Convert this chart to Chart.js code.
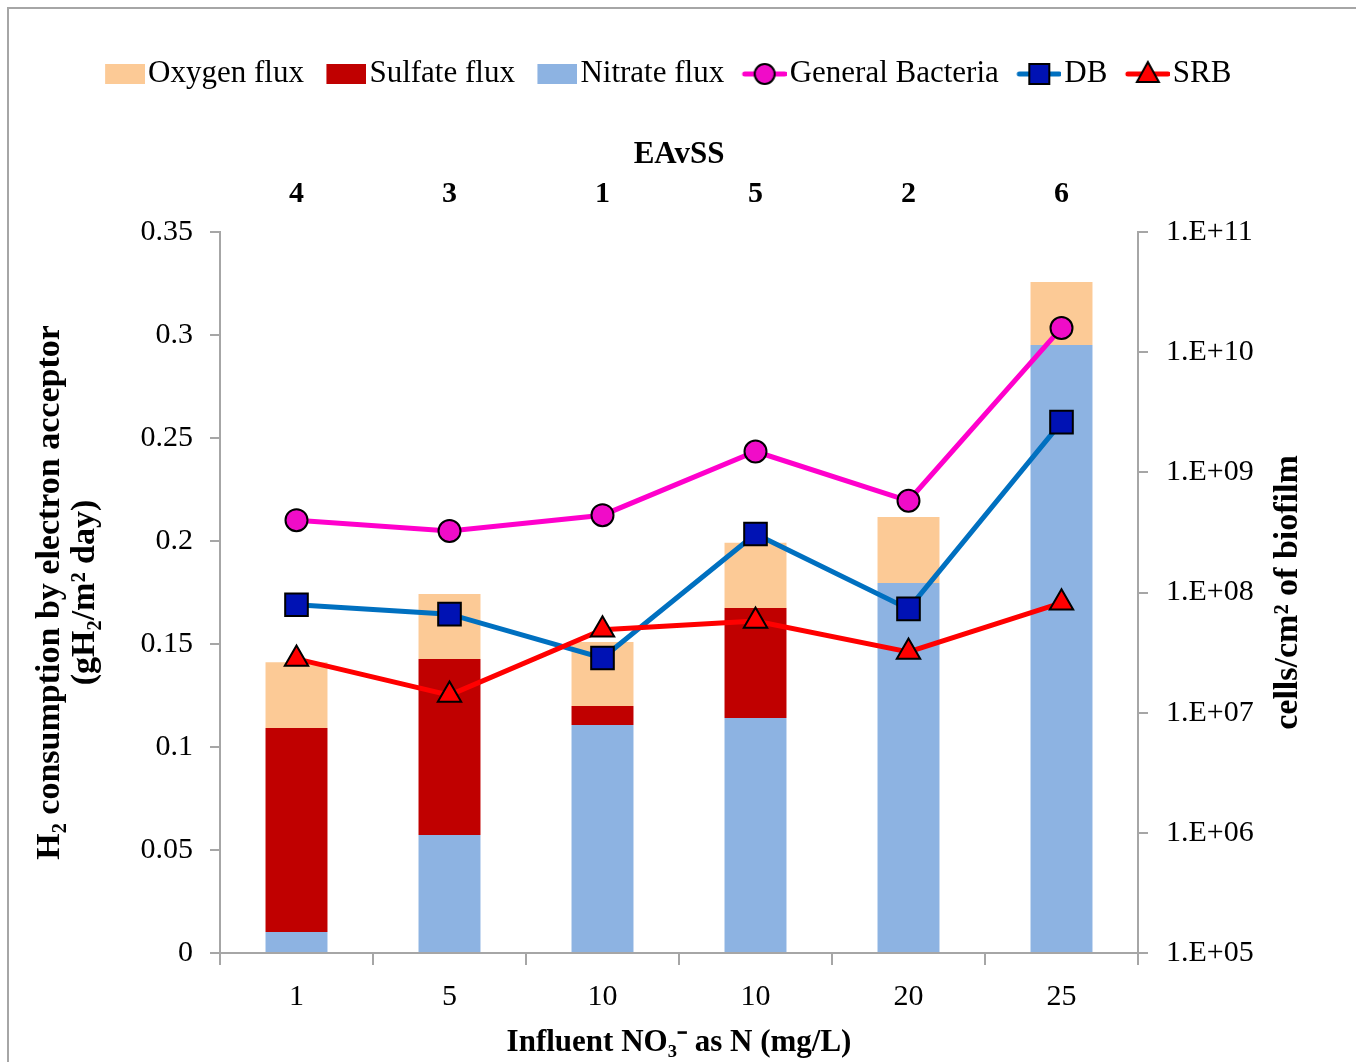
<!DOCTYPE html>
<html>
<head>
<meta charset="utf-8">
<script src="https://cdn.jsdelivr.net/npm/chart.js@4.4.1/dist/chart.umd.min.js"></script>
<style>
html,body{margin:0;padding:0;background:#fff;overflow:hidden;}
#frame{position:absolute;left:7px;top:7px;width:1400px;height:1100px;border:2px solid #a6a6a6;pointer-events:none;}
#wrap{position:absolute;left:0;top:0;width:1356px;height:1062px;}
</style>
</head>
<body>
<div id="frame"></div>
<div id="wrap"><canvas id="c" width="1356" height="1062"></canvas></div>
<script>
// ---- data ----
const categories = ['1', '5', '10', '10', '20', '25'];
const eavssLabels = ['4', '3', '1', '5', '2', '6'];
const nitrateFlux = [0.0102, 0.0573, 0.1107, 0.1141, 0.1796, 0.2951];
const sulfateFlux = [0.0990, 0.0854, 0.0092, 0.0534, 0, 0];
const oxygenFlux  = [0.0320, 0.0316, 0.0311, 0.0316, 0.0320, 0.0306];
const generalBacteria = [4.0e8, 3.25e8, 4.4e8, 1.49e9, 5.8e8, 1.59e10];
const dbCells  = [7.9e7, 6.6e7, 2.85e7, 3.07e8, 7.3e7, 2.62e9];
const srbCells = [2.8e7, 1.4e7, 4.9e7, 5.8e7, 3.2e7, 8.2e7];
const leftTicks = [0, 0.05, 0.1, 0.15, 0.2, 0.25, 0.3, 0.35];
const leftTickLabels = ['0', '0.05', '0.1', '0.15', '0.2', '0.25', '0.3', '0.35'];
const rightTicks = [1e5, 1e6, 1e7, 1e8, 1e9, 1e10, 1e11];
const rightTickLabels = ['1.E+05', '1.E+06', '1.E+07', '1.E+08', '1.E+09', '1.E+10', '1.E+11'];
const seriesNames = ['Nitrate flux', 'Sulfate flux', 'Oxygen flux', 'General Bacteria', 'DB', 'SRB'];
const legendOrder = [2, 1, 0, 3, 4, 5];
const xTitle = 'Influent NO\u2083\u207B as N (mg/L)';
const topTitle = 'EAvSS';
const leftTitle = ['H\u2082 consumption by electron acceptor', '(gH\u2082/m\u00B2 day)'];
const rightTitle = 'cells/cm\u00B2 of biofilm';

// ---- styles ----
const C = {
  oxygen: '#FCCA96', sulfate: '#C00000', nitrate: '#8DB3E2',
  gbLine: '#FF00CC', gbPt: '#F00CC8',
  dbLine: '#0070C0', dbPt: '#0012B4',
  srbLine: '#FF0000', srbPt: '#FF0000',
  axis: '#a6a6a6'
};
const FONT = "'Liberation Serif', 'Times New Roman', serif";
Chart.defaults.font.family = FONT;
Chart.defaults.color = '#000';

function boxIcon(color) {
  const cv = document.createElement('canvas');
  cv.width = 53; cv.height = 22;
  const g = cv.getContext('2d');
  g.fillStyle = color;
  g.fillRect(13, 1, 40, 20);
  return cv;
}
function lineIcon(lineColor, ptColor, shape) {
  const cv = document.createElement('canvas');
  cv.width = 53; cv.height = 28;
  const g = cv.getContext('2d');
  g.strokeStyle = lineColor; g.lineWidth = 5; g.lineCap = 'round';
  g.beginPath(); g.moveTo(11, 14); g.lineTo(51, 14); g.stroke();
  g.fillStyle = ptColor; g.strokeStyle = '#000'; g.lineWidth = 2;
  const cx = 31, cy = 14;
  g.beginPath();
  if (shape === 'circle') { g.arc(cx, cy, 10, 0, Math.PI * 2); }
  else if (shape === 'rect') { g.rect(cx - 10, cy - 10, 20, 20); }
  else { g.moveTo(cx, cy - 12); g.lineTo(cx + 11, cy + 8); g.lineTo(cx - 11, cy + 8); g.closePath(); }
  g.fill(); g.stroke();
  return cv;
}
const legendIcons = [
  boxIcon(C.nitrate), boxIcon(C.sulfate), boxIcon(C.oxygen),
  lineIcon(C.gbLine, C.gbPt, 'circle'),
  lineIcon(C.dbLine, C.dbPt, 'rect'),
  lineIcon(C.srbLine, C.srbPt, 'triangle')
];

const barCommon = { type: 'bar', yAxisID: 'y', xAxisID: 'x', barPercentage: 0.405, categoryPercentage: 1, borderWidth: 0, order: 10 };
const lineCommon = { type: 'line', yAxisID: 'y2', xAxisID: 'x', borderWidth: 5, tension: 0, pointBorderColor: '#000', pointBorderWidth: 2, fill: false };

const rightTitlePlugin = {
  id: 'rightTitle',
  afterDraw(chart) {
    const { ctx, chartArea } = chart;
    const s = chart.scales.y2;
    ctx.save();
    ctx.translate(s.left + 150, (chartArea.top + chartArea.bottom) / 2);
    ctx.rotate(-Math.PI / 2);
    ctx.font = 'bold 34px ' + FONT;
    ctx.fillStyle = '#000';
    ctx.textAlign = 'center';
    ctx.textBaseline = 'middle';
    ctx.fillText(rightTitle, 0, 0);
    ctx.restore();
  }
};

new Chart(document.getElementById('c'), {
  type: 'bar',
  data: {
    labels: categories,
    datasets: [
      Object.assign({}, barCommon, { label: seriesNames[0], data: nitrateFlux, backgroundColor: C.nitrate }),
      Object.assign({}, barCommon, { label: seriesNames[1], data: sulfateFlux, backgroundColor: C.sulfate }),
      Object.assign({}, barCommon, { label: seriesNames[2], data: oxygenFlux, backgroundColor: C.oxygen }),
      Object.assign({}, lineCommon, { label: seriesNames[3], data: generalBacteria, borderColor: C.gbLine, backgroundColor: C.gbPt, pointBackgroundColor: C.gbPt, pointStyle: 'circle', pointRadius: 11, order: 3 }),
      Object.assign({}, lineCommon, { label: seriesNames[4], data: dbCells, borderColor: C.dbLine, backgroundColor: C.dbPt, pointBackgroundColor: C.dbPt, pointStyle: 'rect', pointRadius: 16, order: 2 }),
      Object.assign({}, lineCommon, { label: seriesNames[5], data: srbCells, borderColor: C.srbLine, backgroundColor: C.srbPt, pointBackgroundColor: C.srbPt, pointStyle: 'triangle', pointRadius: 13.5, order: 1 })
    ]
  },
  options: {
    responsive: false,
    animation: false,
    devicePixelRatio: 1,
    layout: { padding: { top: 36.5, right: 20, bottom: 0, left: 0 } },
    plugins: {
      tooltip: { enabled: false },
      legend: {
        position: 'top',
        align: 'center',
        labels: {
          usePointStyle: true,
          pointStyleWidth: 28,
          padding: 22,
          color: '#000',
          font: { size: 31, family: FONT },
          sort: (a, b) => legendOrder.indexOf(a.datasetIndex) - legendOrder.indexOf(b.datasetIndex),
          generateLabels(chart) {
            const items = Chart.defaults.plugins.legend.labels.generateLabels(chart);
            items.forEach(it => { it.pointStyle = legendIcons[it.datasetIndex]; it.lineWidth = 0; });
            return items;
          }
        }
      }
    },
    scales: {
      x: {
        type: 'category', position: 'bottom', stacked: true, offset: true,
        grid: { display: true, drawOnChartArea: false, drawTicks: true, tickLength: 12, offset: true, color: C.axis, lineWidth: 2 },
        border: { display: true, color: C.axis, width: 2 },
        ticks: { font: { size: 30 }, color: '#000', padding: 14, autoSkip: false, maxRotation: 0 },
        title: { display: true, text: xTitle, color: '#000', font: { size: 31, weight: 'bold' }, padding: { top: 0, bottom: 0 } },
        afterFit(s) { s.height = 109; }
      },
      x2: {
        type: 'category', position: 'top', labels: eavssLabels, offset: true,
        grid: { display: false, drawTicks: false },
        border: { display: false },
        ticks: { font: { size: 30, weight: 'bold' }, color: '#000', padding: 20, autoSkip: false, maxRotation: 0 },
        title: { display: true, text: topTitle, color: '#000', font: { size: 31, weight: 'bold' }, padding: { top: 37, bottom: 0 } },
        afterFit(s) { s.height = 132.5; }
      },
      y: {
        type: 'linear', position: 'left', stacked: true, min: 0, max: 0.35,
        afterBuildTicks(s) { s.ticks = leftTicks.map(v => ({ value: v })); },
        grid: { drawOnChartArea: false, drawTicks: true, tickLength: 10, color: C.axis, lineWidth: 2 },
        border: { display: true, color: C.axis, width: 2 },
        ticks: { font: { size: 30 }, color: '#000', padding: 17, callback: (v, i) => leftTickLabels[i] },
        title: { display: true, text: leftTitle, color: '#000', font: { size: 34, weight: 'bold', lineHeight: 1.03 }, padding: { top: 33, bottom: 0 } },
        afterFit(s) { s.width = 220; }
      },
      y2: {
        type: 'logarithmic', position: 'right', min: 1e5, max: 1e11,
        afterBuildTicks(s) { s.ticks = rightTicks.map(v => ({ value: v })); },
        grid: { drawOnChartArea: false, drawTicks: true, tickLength: 10, color: C.axis, lineWidth: 2 },
        border: { display: true, color: C.axis, width: 2 },
        ticks: { font: { size: 30 }, color: '#000', padding: 18, callback: (v, i) => rightTickLabels[i] },
        afterFit(s) { s.width = 198; }
      }
    }
  },
  plugins: [rightTitlePlugin]
});
</script>
</body>
</html>
